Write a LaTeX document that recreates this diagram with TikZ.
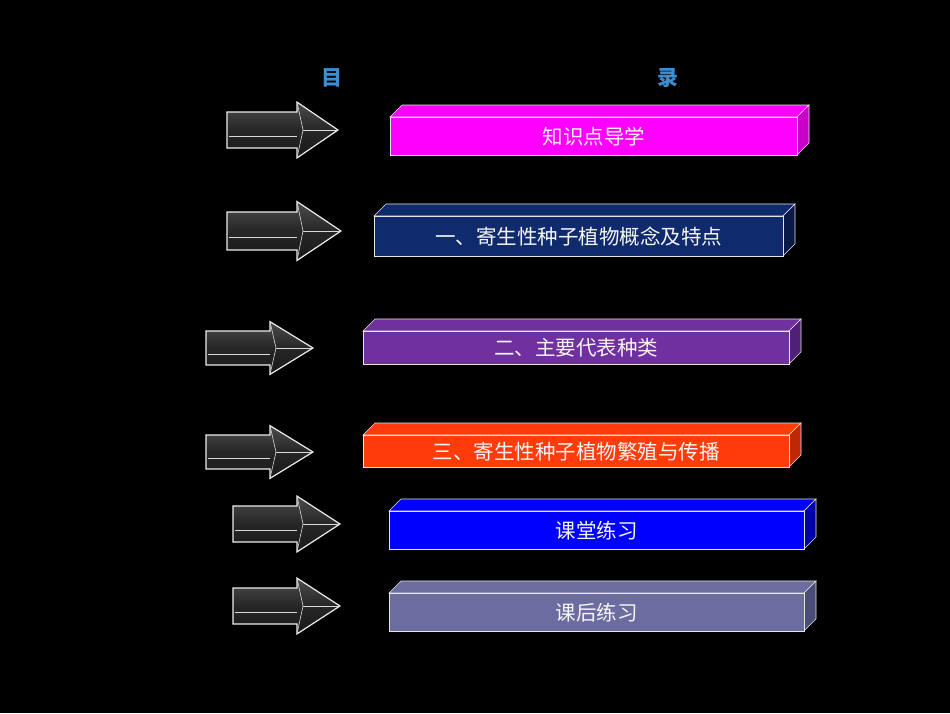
\documentclass[tikz,border=0pt]{standalone}
\usepackage{fontspec}
\newfontfamily\cjk{Noto Sans CJK SC}
\definecolor{cMag}{RGB}{255,0,255}
\definecolor{cMagS}{RGB}{200,0,200}
\definecolor{cNavy}{RGB}{16,42,110}
\definecolor{cNavyS}{RGB}{10,26,72}
\definecolor{cPur}{RGB}{112,48,160}
\definecolor{cPurS}{RGB}{80,32,118}
\definecolor{cOra}{RGB}{255,60,10}
\definecolor{cOraS}{RGB}{190,40,5}
\definecolor{cBlu}{RGB}{0,0,255}
\definecolor{cBluS}{RGB}{0,0,170}
\definecolor{cSla}{RGB}{108,108,160}
\definecolor{cSlaS}{RGB}{76,76,120}
\definecolor{cTtl}{RGB}{60,140,210}
\begin{document}
\begin{tikzpicture}[x=1pt,y=-1pt,
  lbl/.style={text=white!92!gray,font=\cjk\fontsize{20.5}{20.5}\selectfont},
  ttl/.style={text=cTtl,font=\cjk\bfseries\fontsize{21}{21}\selectfont},
  arr/.style={draw=white!85!gray,line width=1.2pt,top color=gray!60!black,bottom color=black!90,middle color=gray!30!black}]
\fill[black] (0,0) rectangle (950,713);
\useasboundingbox (0,0) rectangle (950,713);
\node[ttl] (t1) at (332,78) {目};
\node[ttl] (t2) at (668,78) {录};
\newcommand\mybar[7]{%
  \fill[#5,draw=white!80!gray,line width=0.6pt] (#1,#2) -- (#1+12,#2-12) -- (#3+12,#2-12) -- (#3,#2) -- cycle;
  \fill[#6,draw=white!80!gray,line width=0.6pt] (#3,#2) -- (#3+12,#2-12) -- (#3+12,#4-12) -- (#3,#4) -- cycle;
  \node[fill=#5,draw=white!80!gray,line width=0.6pt,minimum width=#3-#1,minimum height=#4-#2,inner sep=0,anchor=north west] (b#7) at (#1,#2) {};}
\newcommand\myarrow[5]{%
  \path[arr] (#1,#4-#5) -- (#2,#4-#5) -- (#2,#4-#5*1.55) -- (#3,#4) -- (#2,#4+#5*1.55) -- (#2,#4+#5) -- (#1,#4+#5) -- cycle;
  \draw[white!70!gray,line width=0.8pt] (#1+2,#4+#5*0.35) -- (#2,#4+#5*0.35);
  \draw[white!70!gray,line width=0.6pt] (#2,#4-#5*1.55) -- (#2+6,#4) -- (#2,#4+#5*1.55);
  \draw[white!70!gray,line width=0.6pt] (#2+6,#4) -- (#3,#4);}
\mybar{390}{117}{797}{155}{cMag}{cMagS}{1}
\node[lbl] (l1) at (b1.center) {知识点导学};
\mybar{374}{216}{783}{256}{cNavy}{cNavyS}{2}
\node[lbl] (l2) at (b2.center) {一、寄生性种子植物概念及特点};
\mybar{363}{331}{789}{364}{cPur}{cPurS}{3}
\node[lbl] (l3) at (b3.center) {二、主要代表种类};
\mybar{363}{435}{789}{467}{cOra}{cOraS}{4}
\node[lbl] (l4) at (b4.center) {三、寄生性种子植物繁殖与传播};
\mybar{389}{511}{804}{549}{cBlu}{cBluS}{5}
\node[lbl] (l5) at (b5.center) {课堂练习};
\mybar{389}{593}{804}{631}{cSla}{cSlaS}{6}
\node[lbl] (l6) at (b6.center) {课后练习};
\myarrow{227}{297}{338}{130}{18}
\myarrow{227}{297}{341}{231}{19}
\myarrow{206}{270}{313}{348}{17}
\myarrow{206}{270}{313}{452}{17}
\myarrow{233}{297}{340}{524}{18}
\myarrow{233}{297}{340}{606}{18}
\end{tikzpicture}
\end{document}
